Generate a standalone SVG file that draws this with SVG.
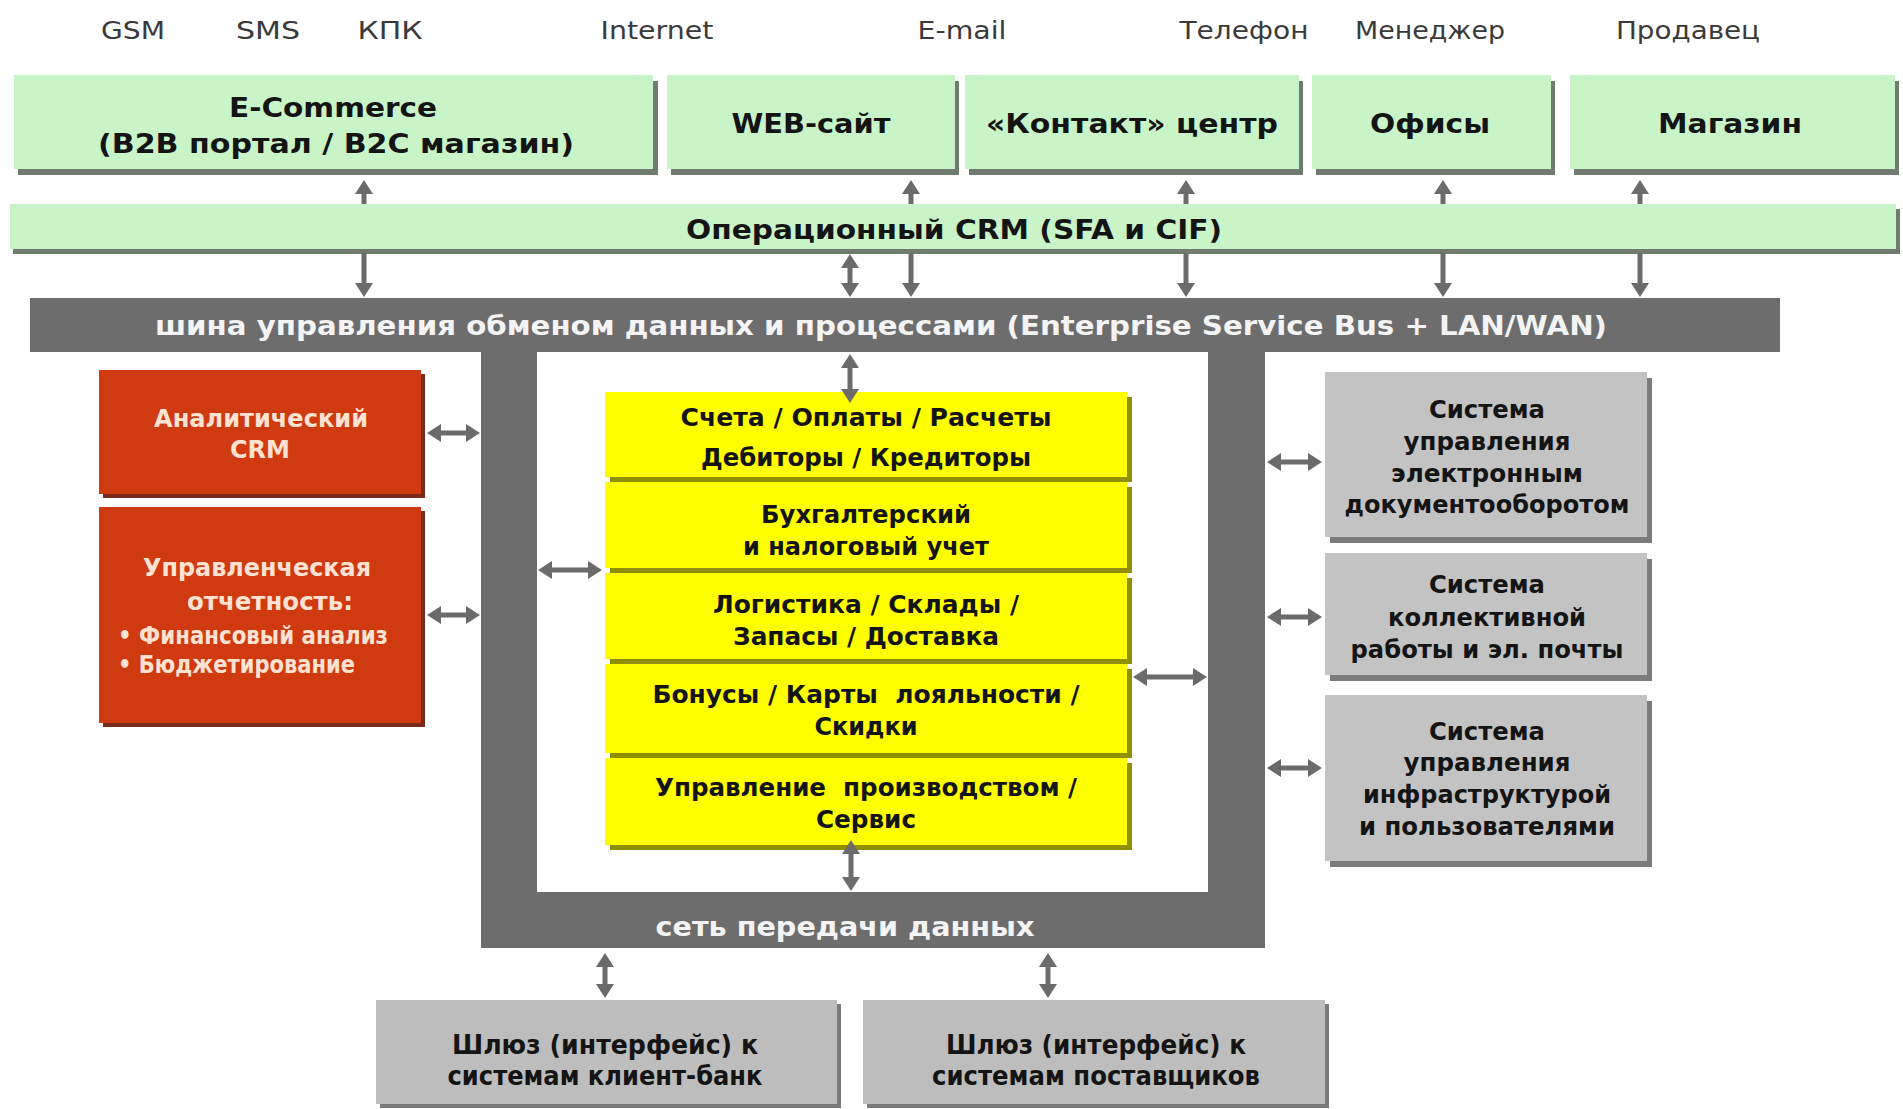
<svg xmlns="http://www.w3.org/2000/svg" width="1903" height="1109" viewBox="0 0 1903 1109">
<style>
.lbl{font-family:"DejaVu Sans","Liberation Sans",sans-serif;font-size:24px;fill:#3a3a3a;text-anchor:middle}
.t{font-family:"DejaVu Sans","Liberation Sans",sans-serif;font-weight:bold;text-anchor:middle;fill:#141414}
.g{font-size:27px}
.y{font-size:25px}
.gr{font-size:25px}
.w{fill:#f4f4f4;font-size:27px}
.r{fill:#ffe2d2;font-size:24px}
.rl{text-anchor:start}
.grn{fill:#c8f4c8}
.grnS{fill:#6e7b6e}
.yel{fill:#ffff00}
.yelS{fill:#8f8f00}
.red{fill:#cf3a10}
.redS{fill:#7a2a18}
.gry{fill:#c3c3c3}
.gryS{fill:#7b7b7b}
.bus{fill:#6d6d6d}
.ar{stroke:#6b6b6b;stroke-width:5;fill:none}
</style>
<defs>
<marker id="ah" markerUnits="userSpaceOnUse" markerWidth="15" markerHeight="18" viewBox="0 0 15 18" refX="1" refY="9" orient="auto-start-reverse">
<path d="M0,0 L14,9 L0,18 z" fill="#6b6b6b"/>
</marker>
</defs>
<rect width="1903" height="1109" fill="#ffffff"/>

<g id="channels">
<text class="lbl" x="133" y="39" textLength="64" lengthAdjust="spacingAndGlyphs">GSM</text>
<text class="lbl" x="268" y="39" textLength="64" lengthAdjust="spacingAndGlyphs">SMS</text>
<text class="lbl" x="390" y="39" textLength="65" lengthAdjust="spacingAndGlyphs">КПК</text>
<text class="lbl" x="657" y="39" textLength="113" lengthAdjust="spacingAndGlyphs">Internet</text>
<text class="lbl" x="962" y="39" textLength="89" lengthAdjust="spacingAndGlyphs">E-mail</text>
<text class="lbl" x="1244" y="39" textLength="129" lengthAdjust="spacingAndGlyphs">Телефон</text>
<text class="lbl" x="1430" y="39" textLength="150" lengthAdjust="spacingAndGlyphs">Менеджер</text>
<text class="lbl" x="1688" y="39" textLength="144" lengthAdjust="spacingAndGlyphs">Продавец</text>
</g>

<g id="ecommerce">
<rect class="grnS" x="18" y="81" width="640" height="94"/>
<rect class="grn" x="14" y="75" width="639" height="94"/>
<text class="t g" x="333" y="117" textLength="208" lengthAdjust="spacingAndGlyphs">E-Commerce</text>
<text class="t g" x="336" y="153" textLength="476" lengthAdjust="spacingAndGlyphs">(B2B портал / B2C магазин)</text>
</g>
<g id="website">
<rect class="grnS" x="671" y="81" width="288" height="94"/>
<rect class="grn" x="667" y="75" width="288" height="94"/>
<text class="t g" x="811" y="133" textLength="159" lengthAdjust="spacingAndGlyphs">WEB-сайт</text>
</g>
<g id="contact">
<rect class="grnS" x="969" y="81" width="334" height="94"/>
<rect class="grn" x="965" y="75" width="334" height="94"/>
<text class="t g" x="1132" y="133" textLength="292" lengthAdjust="spacingAndGlyphs">«Контакт» центр</text>
</g>
<g id="offices">
<rect class="grnS" x="1316" y="81" width="239" height="94"/>
<rect class="grn" x="1312" y="75" width="239" height="94"/>
<text class="t g" x="1430" y="133" textLength="120" lengthAdjust="spacingAndGlyphs">Офисы</text>
</g>
<g id="shop">
<rect class="grnS" x="1574" y="81" width="325" height="94"/>
<rect class="grn" x="1570" y="75" width="325" height="94"/>
<text class="t g" x="1730" y="133" textLength="144" lengthAdjust="spacingAndGlyphs">Магазин</text>
</g>

<g id="crm">
<rect class="grnS" x="13" y="209" width="1887" height="45"/>
<rect class="grn" x="10" y="204" width="1886" height="45"/>
<text class="t g" x="954" y="239" textLength="536" lengthAdjust="spacingAndGlyphs">Операционный CRM (SFA и CIF)</text>
</g>

<g id="network">
<path class="bus" fill-rule="evenodd" d="M481,298 H1265 V948 H481 Z M537,352 V892 H1208 V352 Z"/>
<text class="t w" x="845" y="936" textLength="379" lengthAdjust="spacingAndGlyphs">сеть передачи данных</text>
</g>

<g id="esb">
<rect class="bus" x="30" y="298" width="1750" height="54"/>
<text class="t w" x="881" y="335" textLength="1452" lengthAdjust="spacingAndGlyphs">шина управления обменом данных и процессами (Enterprise Service Bus + LAN/WAN)</text>
</g>

<g id="core">
<rect class="yelS" x="610" y="397" width="522" height="85"/>
<rect class="yel" x="605" y="392" width="522" height="85"/>
<rect class="yelS" x="610" y="487" width="522" height="86"/>
<rect class="yel" x="605" y="482" width="522" height="86"/>
<rect class="yelS" x="610" y="578" width="522" height="86"/>
<rect class="yel" x="605" y="573" width="522" height="86"/>
<rect class="yelS" x="610" y="669" width="522" height="89"/>
<rect class="yel" x="605" y="664" width="522" height="89"/>
<rect class="yelS" x="610" y="763" width="522" height="87"/>
<rect class="yel" x="605" y="758" width="522" height="87"/>
<text class="t y" x="866" y="426" textLength="371" lengthAdjust="spacingAndGlyphs">Счета / Оплаты / Расчеты</text>
<text class="t y" x="866" y="466" textLength="330" lengthAdjust="spacingAndGlyphs">Дебиторы / Кредиторы</text>
<text class="t y" x="866" y="523" textLength="210" lengthAdjust="spacingAndGlyphs">Бухгалтерский</text>
<text class="t y" x="866" y="555" textLength="246" lengthAdjust="spacingAndGlyphs">и налоговый учет</text>
<text class="t y" x="866" y="613" textLength="306" lengthAdjust="spacingAndGlyphs">Логистика / Склады /</text>
<text class="t y" x="866" y="645" textLength="266" lengthAdjust="spacingAndGlyphs">Запасы / Доставка</text>
<text class="t y" x="866" y="703" textLength="427" lengthAdjust="spacingAndGlyphs" xml:space="preserve">Бонусы / Карты  лояльности /</text>
<text class="t y" x="866" y="735" textLength="103" lengthAdjust="spacingAndGlyphs">Скидки</text>
<text class="t y" x="866" y="796" textLength="422" lengthAdjust="spacingAndGlyphs" xml:space="preserve">Управление  производством /</text>
<text class="t y" x="866" y="828" textLength="100" lengthAdjust="spacingAndGlyphs">Сервис</text>
</g>

<g id="analytic-crm">
<rect class="redS" x="103" y="374" width="322" height="124"/>
<rect class="red" x="99" y="370" width="322" height="124"/>
<text class="t r" x="261" y="427" textLength="214" lengthAdjust="spacingAndGlyphs">Аналитический</text>
<text class="t r" x="260" y="458" textLength="60" lengthAdjust="spacingAndGlyphs">CRM</text>
</g>
<g id="mgmt-reporting">
<rect class="redS" x="103" y="511" width="322" height="216"/>
<rect class="red" x="99" y="507" width="322" height="216"/>
<text class="t r" x="257" y="576" textLength="228" lengthAdjust="spacingAndGlyphs">Управленческая</text>
<text class="t r" x="270" y="610" textLength="166" lengthAdjust="spacingAndGlyphs">отчетность:</text>
<text class="t r rl" x="118" y="644" textLength="270" lengthAdjust="spacingAndGlyphs">• Финансовый анализ</text>
<text class="t r rl" x="118" y="673" textLength="237" lengthAdjust="spacingAndGlyphs">• Бюджетирование</text>
</g>

<g id="edms">
<rect class="gryS" x="1330" y="378" width="322" height="165"/>
<rect class="gry" x="1325" y="372" width="322" height="165"/>
<text class="t gr" x="1487" y="418" textLength="116" lengthAdjust="spacingAndGlyphs">Система</text>
<text class="t gr" x="1487" y="450" textLength="167" lengthAdjust="spacingAndGlyphs">управления</text>
<text class="t gr" x="1487" y="482" textLength="192" lengthAdjust="spacingAndGlyphs">электронным</text>
<text class="t gr" x="1487" y="513" textLength="285" lengthAdjust="spacingAndGlyphs">документооборотом</text>
</g>
<g id="groupware">
<rect class="gryS" x="1330" y="559" width="322" height="122"/>
<rect class="gry" x="1325" y="553" width="322" height="122"/>
<text class="t gr" x="1487" y="593" textLength="116" lengthAdjust="spacingAndGlyphs">Система</text>
<text class="t gr" x="1487" y="626" textLength="198" lengthAdjust="spacingAndGlyphs">коллективной</text>
<text class="t gr" x="1487" y="658" textLength="273" lengthAdjust="spacingAndGlyphs">работы и эл. почты</text>
</g>
<g id="infra">
<rect class="gryS" x="1330" y="701" width="322" height="166"/>
<rect class="gry" x="1325" y="695" width="322" height="166"/>
<text class="t gr" x="1487" y="740" textLength="116" lengthAdjust="spacingAndGlyphs">Система</text>
<text class="t gr" x="1487" y="771" textLength="167" lengthAdjust="spacingAndGlyphs">управления</text>
<text class="t gr" x="1487" y="803" textLength="248" lengthAdjust="spacingAndGlyphs">инфраструктурой</text>
<text class="t gr" x="1487" y="835" textLength="256" lengthAdjust="spacingAndGlyphs">и пользователями</text>
</g>

<g id="gw-bank">
<rect class="gryS" x="380" y="1004" width="461" height="104"/>
<rect class="gry" x="376" y="1000" width="461" height="104" style="fill:#bdbdbd"/>
<text class="t" x="605" y="1054" font-size="26" textLength="306" lengthAdjust="spacingAndGlyphs">Шлюз (интерфейс) к</text>
<text class="t" x="605" y="1085" font-size="26" textLength="315" lengthAdjust="spacingAndGlyphs">системам клиент-банк</text>
</g>
<g id="gw-suppliers">
<rect class="gryS" x="867" y="1004" width="462" height="104"/>
<rect class="gry" x="863" y="1000" width="462" height="104" style="fill:#bdbdbd"/>
<text class="t" x="1096" y="1054" font-size="26" textLength="300" lengthAdjust="spacingAndGlyphs">Шлюз (интерфейс) к</text>
<text class="t" x="1096" y="1085" font-size="26" textLength="328" lengthAdjust="spacingAndGlyphs">системам поставщиков</text>
</g>

<g id="connectors">
<line class="ar" x1="364" y1="204" x2="364" y2="193" marker-end="url(#ah)"/>
<line class="ar" x1="911" y1="204" x2="911" y2="193" marker-end="url(#ah)"/>
<line class="ar" x1="1186" y1="204" x2="1186" y2="193" marker-end="url(#ah)"/>
<line class="ar" x1="1443" y1="204" x2="1443" y2="193" marker-end="url(#ah)"/>
<line class="ar" x1="1640" y1="204" x2="1640" y2="193" marker-end="url(#ah)"/>
<line class="ar" x1="364" y1="253" x2="364" y2="284" marker-end="url(#ah)"/>
<line class="ar" x1="911" y1="253" x2="911" y2="284" marker-end="url(#ah)"/>
<line class="ar" x1="1186" y1="253" x2="1186" y2="284" marker-end="url(#ah)"/>
<line class="ar" x1="1443" y1="253" x2="1443" y2="284" marker-end="url(#ah)"/>
<line class="ar" x1="1640" y1="253" x2="1640" y2="284" marker-end="url(#ah)"/>
<line class="ar" x1="850" y1="267" x2="850" y2="284" marker-start="url(#ah)" marker-end="url(#ah)"/>
<line class="ar" x1="850" y1="367" x2="850" y2="390" marker-start="url(#ah)" marker-end="url(#ah)"/>
<line class="ar" x1="851" y1="853" x2="851" y2="878" marker-start="url(#ah)" marker-end="url(#ah)"/>
<line class="ar" x1="551" y1="570" x2="589" y2="570" marker-start="url(#ah)" marker-end="url(#ah)"/>
<line class="ar" x1="1146" y1="677" x2="1194" y2="677" marker-start="url(#ah)" marker-end="url(#ah)"/>
<line class="ar" x1="440" y1="433" x2="467" y2="433" marker-start="url(#ah)" marker-end="url(#ah)"/>
<line class="ar" x1="440" y1="615" x2="467" y2="615" marker-start="url(#ah)" marker-end="url(#ah)"/>
<line class="ar" x1="1280" y1="462" x2="1309" y2="462" marker-start="url(#ah)" marker-end="url(#ah)"/>
<line class="ar" x1="1280" y1="617" x2="1309" y2="617" marker-start="url(#ah)" marker-end="url(#ah)"/>
<line class="ar" x1="1280" y1="768" x2="1309" y2="768" marker-start="url(#ah)" marker-end="url(#ah)"/>
<line class="ar" x1="605" y1="966" x2="605" y2="985" marker-start="url(#ah)" marker-end="url(#ah)"/>
<line class="ar" x1="1048" y1="966" x2="1048" y2="985" marker-start="url(#ah)" marker-end="url(#ah)"/>
</g>
</svg>
